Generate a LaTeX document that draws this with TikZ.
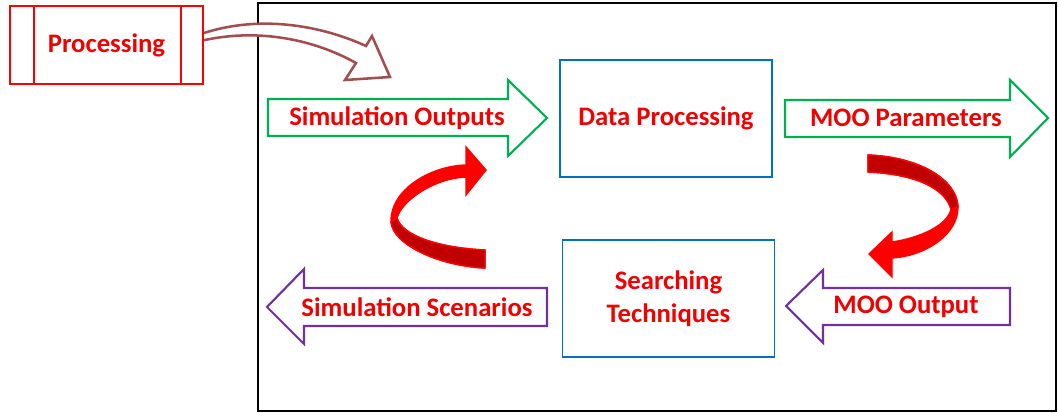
\documentclass[tikz,border=0pt]{standalone}
\usepackage{fontspec}
\setmainfont{Carlito}
\usetikzlibrary{positioning}

\definecolor{txtred}{RGB}{240,0,0}
\definecolor{boxblue}{RGB}{0,112,192}
\definecolor{arrgreen}{RGB}{0,176,80}
\definecolor{arrpurple}{RGB}{112,48,160}
\definecolor{arrbrown}{RGB}{160,78,78}
\definecolor{darkred}{RGB}{192,0,0}

\begin{document}
\begin{tikzpicture}[
    x=0.025cm, y=-0.025cm,
    font=\fontsize{19}{23.4}\selectfont\bfseries,
    label/.style={
        text=txtred,
        align=center,
        inner sep=0pt
    },
    stage/.style={
        draw=boxblue,
        line width=1.3pt,
        minimum width=5.3cm,
        minimum height=2.92cm,
        align=center,
        text=txtred
    },
    flow/.style={
        line width=1.5pt,
        line join=miter,
        fill=white
    },
    swirl/.style={
        draw=red,
        line width=1pt,
        fill=red
    }
]
\useasboundingbox (0,0) rectangle (1058,413);

% Outer frame
\draw[line width=1.4pt] (258,3) rectangle (1056,411);

% Processing block
\node[draw=red, line width=1.4pt, minimum width=4.825cm, minimum height=1.95cm,
      text=txtred] (proc) at (106.5,45) {Processing};
\draw[red, line width=1.4pt] ([xshift=0.625cm]proc.north west) -- ([xshift=0.625cm]proc.south west);
\draw[red, line width=1.4pt] ([xshift=-0.575cm]proc.north east) -- ([xshift=-0.575cm]proc.south east);

% Curved arrow into the frame
\draw[flow, draw=arrbrown, line width=1.8pt]
    ([yshift=0.3cm]proc.east) .. controls (260,15) and (320,25) .. (366,46)
    -- (372,36) -- (390,77) -- (345,80) -- (356,63)
    .. controls (315,40) and (260,28) .. ([yshift=0.12cm]proc.east);

% Stages
\node[stage] (dataproc) at (666,118.5) {Data Processing};
\node[stage] (search) at (668.5,298.5) {Searching\\Techniques};

% Block arrows, top row
\draw[flow, draw=arrgreen] (268,99) -- (508,99) -- (508,80) -- (547,118)
    -- (508,156) -- (508,136) -- (268,136) -- cycle;
\node[label] (simout) at (397,118) {Simulation Outputs};

\draw[flow, draw=arrgreen] (785,100) -- (1010,100) -- (1010,80) -- (1048,118)
    -- (1010,157) -- (1010,137) -- (785,137) -- cycle;
\node[label] (mooparam) at (906,118) {MOO Parameters};

% Block arrows, bottom row
\draw[flow, draw=arrpurple] (267,307) -- (304,269) -- (304,288) -- (547,288)
    -- (547,326) -- (304,326) -- (304,344) -- cycle;
\node[label] (simscen) at (417,307) {Simulation Scenarios};

\draw[flow, draw=arrpurple] (786,306) -- (823,270) -- (823,288) -- (1010,288)
    -- (1010,325) -- (823,325) -- (823,343) -- cycle;
\node[label] (mooout) at (906,307) {MOO Output};

% Red loop arrow, left
\draw[swirl] (485,268) .. controls (440,266) and (393,245) .. (391,222)
    .. controls (390,190) and (430,166) .. (466,165)
    -- (466,147) -- (486,170) -- (466,195) -- (466,177)
    .. controls (435,178) and (402,200) .. (397,218)
    .. controls (402,236) and (440,248) .. (485,250) -- cycle;
\draw[swirl, fill=darkred] (485,268) .. controls (440,266) and (393,245) .. (391,222)
    -- (397,218) .. controls (402,236) and (440,248) .. (485,250) -- cycle;

% Red loop arrow, right
\draw[swirl] (868,155) .. controls (920,157) and (957,180) .. (958,207)
    .. controls (958,235) and (925,256) .. (892,258)
    -- (892,277) -- (869,254) -- (892,232) -- (892,242)
    .. controls (920,238) and (948,225) .. (951,209)
    .. controls (945,188) and (915,174) .. (868,172) -- cycle;
\draw[swirl, fill=darkred] (868,155) .. controls (920,157) and (957,180) .. (958,207)
    -- (951,209) .. controls (945,188) and (915,174) .. (868,172) -- cycle;

\end{tikzpicture}
\end{document}
